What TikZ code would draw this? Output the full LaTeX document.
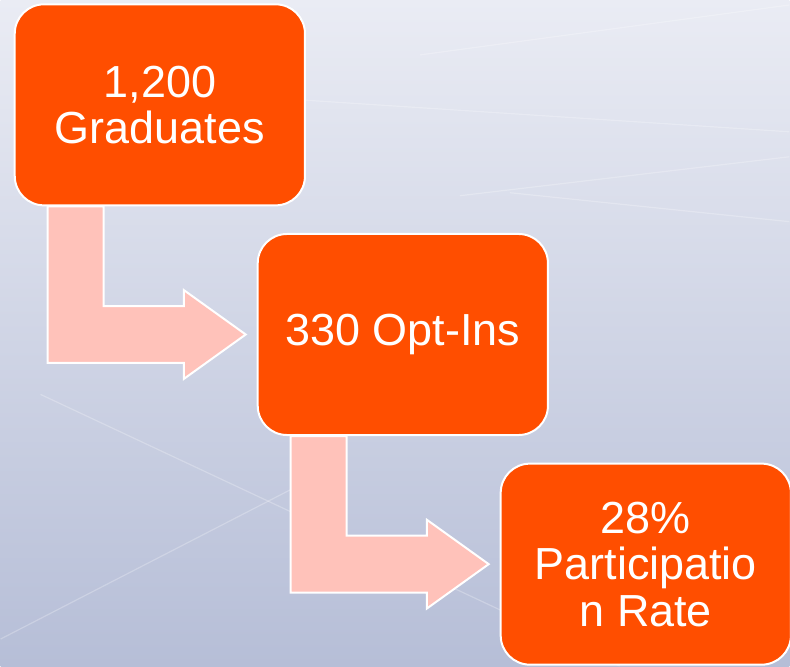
\documentclass[tikz,border=0pt]{standalone}
\usepackage{fontspec}
\setmainfont{Liberation Sans}
\usetikzlibrary{positioning,calc}

\definecolor{stagefill}{RGB}{255,78,0}
\definecolor{bendfill}{RGB}{255,194,186}
\definecolor{skytop}{RGB}{234,236,244}
\definecolor{skymid}{RGB}{212,216,230}
\definecolor{skybottom}{RGB}{182,190,215}

\pgfdeclarelayer{canvas}
\pgfdeclarelayer{bends}
\pgfsetlayers{canvas,bends,main}

\begin{document}
\begin{tikzpicture}[x=0.75pt, y=-0.75pt,
    stage/.style={draw=white, line width=1.5pt, fill=stagefill, rounded corners=22pt,
        minimum width=218pt, minimum height=151pt, align=center, text=white,
        font=\fontsize{33.75}{35}\selectfont},
    bentarrow/.style={draw=white, line width=1.5pt, fill=bendfill, line join=miter},
    streak/.style={white, opacity=0.25, line width=0.9pt}
]
    % backdrop
    \begin{pgfonlayer}{canvas}
        \shade[top color=skytop, middle color=skymid, bottom color=skybottom]
            (0,0) rectangle (790,667);
        \draw[streak] (40,395) -- (620,667);
        \draw[streak] (0,640) -- (330,470);
        \draw[streak] (420,55) -- (790,5);
        \draw[streak] (300,100) -- (790,132);
        \draw[streak] (460,196) -- (790,157);
        \draw[streak] (510,193) -- (790,222);
    \end{pgfonlayer}
    \useasboundingbox (0,0) rectangle (790,667);

    \node[stage] (gradnode) at (159.5,105) {1,200\\Graduates};
    \node[stage, below right=20pt and -37pt of gradnode] (optnode) {330 Opt-Ins};
    \node[stage, below right=20pt and -37pt of optnode] (ratenode) {28\%\\Participatio\\n Rate};

    % bent arrows from one stage to the next
    \begin{pgfonlayer}{bends}
    \foreach \a/\b in {gradnode/optnode, optnode/ratenode}{
        \draw[bentarrow] ($(\a.south west)+(34,0)$) coordinate (stemleft)
            -- ($(\a.south west)+(90,0)$) coordinate (stemright)
            -- ($(stemright |- \b.west)+(0,-28.5)$)
            -- ($(\b.west)+(-73,-28.5)$)
            -- ($(\b.west)+(-73,-44.5)$)
            -- ($(\b.west)+(-11,0)$)
            -- ($(\b.west)+(-73,44.5)$)
            -- ($(\b.west)+(-73,28.5)$)
            -- ($(stemleft |- \b.west)+(0,28.5)$)
            -- cycle;
    }
    \end{pgfonlayer}
\end{tikzpicture}
\end{document}
